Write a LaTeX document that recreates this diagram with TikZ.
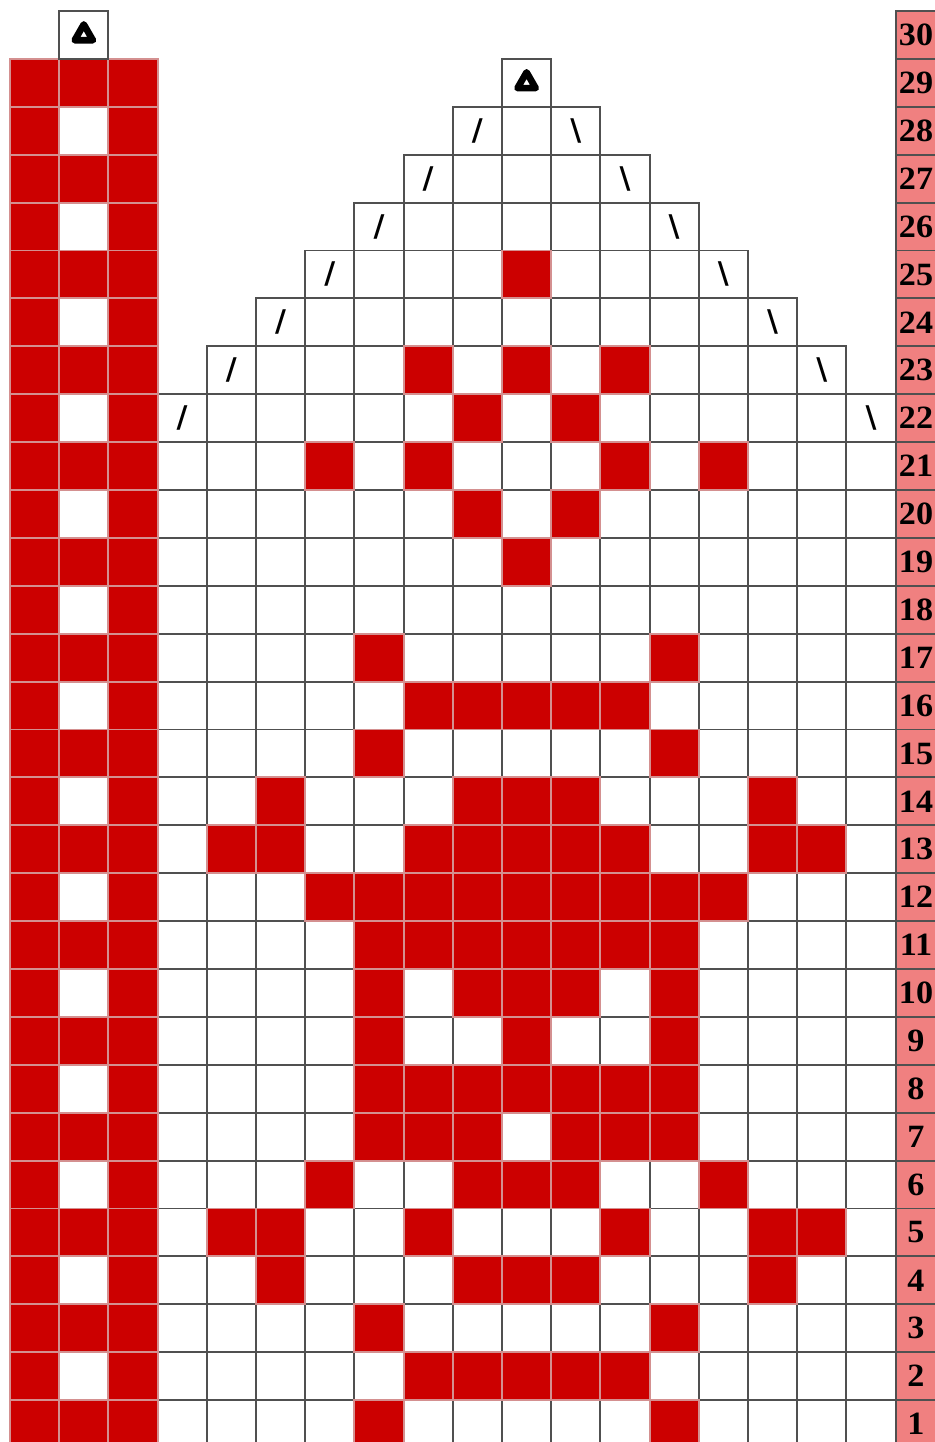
\documentclass[tikz,border=0pt]{standalone}
\usepackage{fontspec}
\newfontfamily\rowfont{Liberation Serif}
\newfontfamily\decfont{DejaVu Sans}
\usepackage{tikz}
\usetikzlibrary{shapes.geometric}
\definecolor{cRed}{HTML}{CC0000}
\definecolor{cPink}{HTML}{F08080}
\definecolor{cGrid}{HTML}{505050}
\definecolor{cSeam}{HTML}{D49090}
\tikzset{
  cell/.style={draw=cGrid,line width=1.1pt,fill=white},
  knit/.style={draw=cSeam,line width=1.1pt,fill=cRed},
  numcell/.style={draw=cGrid,line width=1.1pt,fill=cPink},
  rownum/.style={font=\rowfont\bfseries\fontsize{18.5}{18.5}\selectfont,xscale=1.05,inner sep=0pt},
  dec/.style={font=\decfont\bfseries\fontsize{17}{17}\selectfont,inner sep=0pt},
  castoff/.style={regular polygon,regular polygon sides=3,draw=black,fill=white,line width=3.8pt,line join=round,inner sep=0pt,minimum size=0.42cm},
}

\begin{document}
\begin{tikzpicture}[x=0.984cm,y=0.958cm]
  \useasboundingbox (-0.203,0.125) rectangle (18.80,30.23);
  \clip (-0.203,0.125) rectangle (18.80,30.23);
  % main chart
  \foreach \r in {1,...,21}
    \foreach \c in {1,...,15}
      \draw[cell] (\c+2,\r-1) rectangle ++(1,1);
  \foreach \r in {22,...,29}{
    \pgfmathtruncatemacro{\lo}{\r-21}
    \pgfmathtruncatemacro{\hi}{37-\r}
    \foreach \c in {\lo,...,\hi}
      \draw[cell] (\c+2,\r-1) rectangle ++(1,1);
  }
  % decreases
  \foreach \r in {22,...,28}{
    \node[dec] (lf\r) at (\r-18.5,\r-0.5) {/};
    \node[dec] (rt\r) at (39.5-\r,\r-0.5) {\textbackslash};
  }
  \node[castoff] (top29) at (10.5,28.5) {};
  % pattern
  \foreach \r/\cols in {1/{5,11},2/{6,7,8,9,10},3/{5,11},4/{3,7,8,9,13},
      5/{2,3,6,10,13,14},6/{4,7,8,9,12},7/{5,6,7,9,10,11},8/{5,6,7,8,9,10,11},
      9/{5,8,11},10/{5,7,8,9,11},11/{5,6,7,8,9,10,11},12/{4,5,6,7,8,9,10,11,12},
      13/{2,3,6,7,8,9,10,13,14},14/{3,7,8,9,13},15/{5,11},16/{6,7,8,9,10},
      17/{5,11},19/{8},20/{7,9},21/{4,6,10,12},22/{7,9},23/{6,8,10},25/{8}}
    \foreach \c in \cols
      \draw[knit] (\c+2,\r-1) rectangle ++(1,1);
  % thumb strip
  \foreach \r in {2,4,...,28}
    \draw[cell] (1,\r-1) rectangle ++(1,1);
  \foreach \r in {1,...,29}{
    \draw[knit] (0,\r-1) rectangle ++(1,1);
    \draw[knit] (2,\r-1) rectangle ++(1,1);
  }
  \foreach \r in {1,3,...,29}
    \draw[knit] (1,\r-1) rectangle ++(1,1);
  \draw[cell] (1,29) rectangle ++(1,1);
  \node[castoff] (top30) at (1.5,29.5) {};
  % row numbers
  \foreach \r in {1,...,30}{
    \draw[numcell] (18,\r-1) rectangle ++(1,1);
    \node[rownum] (n\r) at (18.415,\r-0.5) {\r};
  }
\end{tikzpicture}
\end{document}
